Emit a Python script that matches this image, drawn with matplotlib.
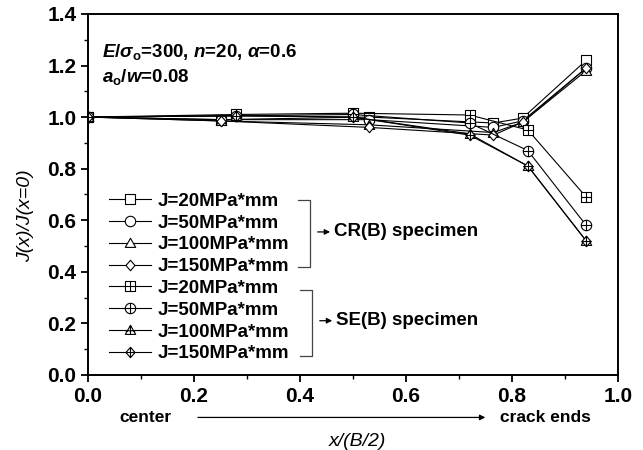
import matplotlib
matplotlib.use('Agg')
import matplotlib.pyplot as plt
from matplotlib.path import Path
from matplotlib.ticker import MultipleLocator, FormatStrFormatter

plt.rcParams['font.family'] = ['Liberation Sans', 'DejaVu Sans']
plt.rcParams['mathtext.fontset'] = 'custom'
plt.rcParams['mathtext.rm'] = 'Liberation Sans:bold'
plt.rcParams['mathtext.it'] = 'Liberation Sans:bold:italic'
plt.rcParams['mathtext.bf'] = 'Liberation Sans:bold'

# positions along the crack front
x_cr = [0.0, 0.25, 0.53, 0.765, 0.82, 0.94]
x_se = [0.0, 0.28, 0.50, 0.72, 0.83, 0.94]

# CR(B) specimen
cr_j20 = [1.0, 0.99, 1.00, 0.977, 0.996, 1.22]
cr_j50 = [1.0, 0.99, 0.99, 0.960, 0.985, 1.19]
cr_j100 = [1.0, 0.985, 0.97, 0.940, 0.980, 1.18]
cr_j150 = [1.0, 0.985, 0.96, 0.930, 0.980, 1.19]

# SE(B) specimen
se_j20 = [1.0, 1.01, 1.015, 1.008, 0.95, 0.69]
se_j50 = [1.0, 1.005, 1.01, 0.977, 0.87, 0.58]
se_j100 = [1.0, 1.005, 1.00, 0.935, 0.81, 0.52]
se_j150 = [1.0, 1.005, 1.00, 0.930, 0.81, 0.52]

labels = ['J=20MPa*mm', 'J=50MPa*mm', 'J=100MPa*mm', 'J=150MPa*mm']

M, L, C = Path.MOVETO, Path.LINETO, Path.CLOSEPOLY
cross = Path([(-1, 0), (1, 0), (0, -1), (0, 1)], [M, L, M, L])
sq = Path([(-1, -1), (1, -1), (1, 1), (-1, 1), (-1, -1)], [M, L, L, L, C])
tri = Path([(0, 1), (-1, -0.75), (1, -0.75), (0, 1)], [M, L, L, C])
tri_cross = Path([(-1, -0.05), (1, -0.05), (0, 1), (0, -0.75)], [M, L, M, L])
dia = Path([(0, 1.15), (1, 0), (0, -1.15), (-1, 0), (0, 1.15)], [M, L, L, L, C])
dia_cross = Path([(-1, 0), (1, 0), (0, -1.15), (0, 1.15)], [M, L, M, L])
circ = Path.unit_circle()

plain_m = [sq, circ, tri, dia]
cross_m = [Path.make_compound_path(sq, cross),
           Path.make_compound_path(circ, cross),
           Path.make_compound_path(tri, tri_cross),
           Path.make_compound_path(dia, dia_cross)]

fig = plt.figure(figsize=(6.43, 4.5), dpi=100)
ax = fig.add_axes([0.137, 0.167, 0.824, 0.802])

style = dict(color='black', lw=0.8, ms=7.5, mfc='white', mec='black', mew=0.8)
handles = []
for ys, m in zip([cr_j20, cr_j50, cr_j100, cr_j150], plain_m):
    h, = ax.plot(x_cr, ys, marker=m, **style)
    handles.append(h)
for ys, m in zip([se_j20, se_j50, se_j100, se_j150], cross_m):
    h, = ax.plot(x_se, ys, marker=m, **style)
    handles.append(h)

ax.set_xlim(0, 1.0)
ax.set_ylim(0, 1.4)
ax.xaxis.set_major_locator(MultipleLocator(0.2))
ax.xaxis.set_minor_locator(MultipleLocator(0.1))
ax.yaxis.set_major_locator(MultipleLocator(0.2))
ax.yaxis.set_minor_locator(MultipleLocator(0.1))
ax.xaxis.set_major_formatter(FormatStrFormatter('%.1f'))
ax.yaxis.set_major_formatter(FormatStrFormatter('%.1f'))
ax.tick_params(which='major', direction='out', length=5, width=1.3, labelsize=15)
ax.tick_params(which='minor', direction='out', length=3, width=1.0)
for lab in ax.get_xticklabels() + ax.get_yticklabels():
    lab.set_fontweight('bold')
for s in ax.spines.values():
    s.set_linewidth(1.4)

leg = ax.legend(handles, labels * 2, loc='upper left', bbox_to_anchor=(0.04, 0.505),
                frameon=False, prop=dict(weight='bold', size=13.5), handlelength=2.2,
                handletextpad=0.4, labelspacing=0.25, borderpad=0, borderaxespad=0)

# brackets
tr = ax.transAxes
ax.plot([0.396, 0.419, 0.419, 0.396], [0.485, 0.485, 0.299, 0.299], color='#444444', lw=0.9,
        transform=tr, clip_on=False)
ax.annotate('', xy=(0.462, 0.396), xytext=(0.428, 0.396), xycoords=tr,
            arrowprops=dict(arrowstyle='-|>', color='black', lw=0.9, mutation_scale=8))
ax.text(0.464, 0.396, 'CR(B) specimen', transform=tr, fontsize=13.5, fontweight='bold',
        va='center', ha='left')
ax.plot([0.400, 0.423, 0.423, 0.400], [0.235, 0.235, 0.053, 0.053], color='#444444', lw=0.9,
        transform=tr, clip_on=False)
ax.annotate('', xy=(0.466, 0.150), xytext=(0.432, 0.150), xycoords=tr,
            arrowprops=dict(arrowstyle='-|>', color='black', lw=0.9, mutation_scale=8))
ax.text(0.468, 0.150, 'SE(B) specimen', transform=tr, fontsize=13.5, fontweight='bold',
        va='center', ha='left')

# parameters
ax.text(0.027, 0.895, r'$E/\sigma_\mathrm{o}$=300, $n$=20, $\alpha$=0.6', transform=tr,
        fontsize=13.5, fontweight='bold', va='center')
ax.text(0.027, 0.825, r'$a_\mathrm{o}/w$=0.08', transform=tr,
        fontsize=13.5, fontweight='bold', va='center')

# axis texts
ax.text(0.108, -0.118, 'center', transform=tr, fontsize=12.5, fontweight='bold',
        ha='center', va='center')
ax.annotate('', xy=(0.755, -0.118), xytext=(0.202, -0.118), xycoords=tr,
            arrowprops=dict(arrowstyle='-|>', color='black', lw=0.9, mutation_scale=8))
ax.text(0.777, -0.118, 'crack ends', transform=tr, fontsize=12.5, fontweight='bold',
        ha='left', va='center')
ax.text(0.509, -0.185, 'x/(B/2)', transform=tr, fontsize=14, style='italic',
        ha='center', va='center')
fig.text(0.04, 0.52, 'J(x)/J(x=0)', fontsize=14, style='italic', rotation=90,
         ha='center', va='center')

fig.savefig('out.png', dpi=100)
